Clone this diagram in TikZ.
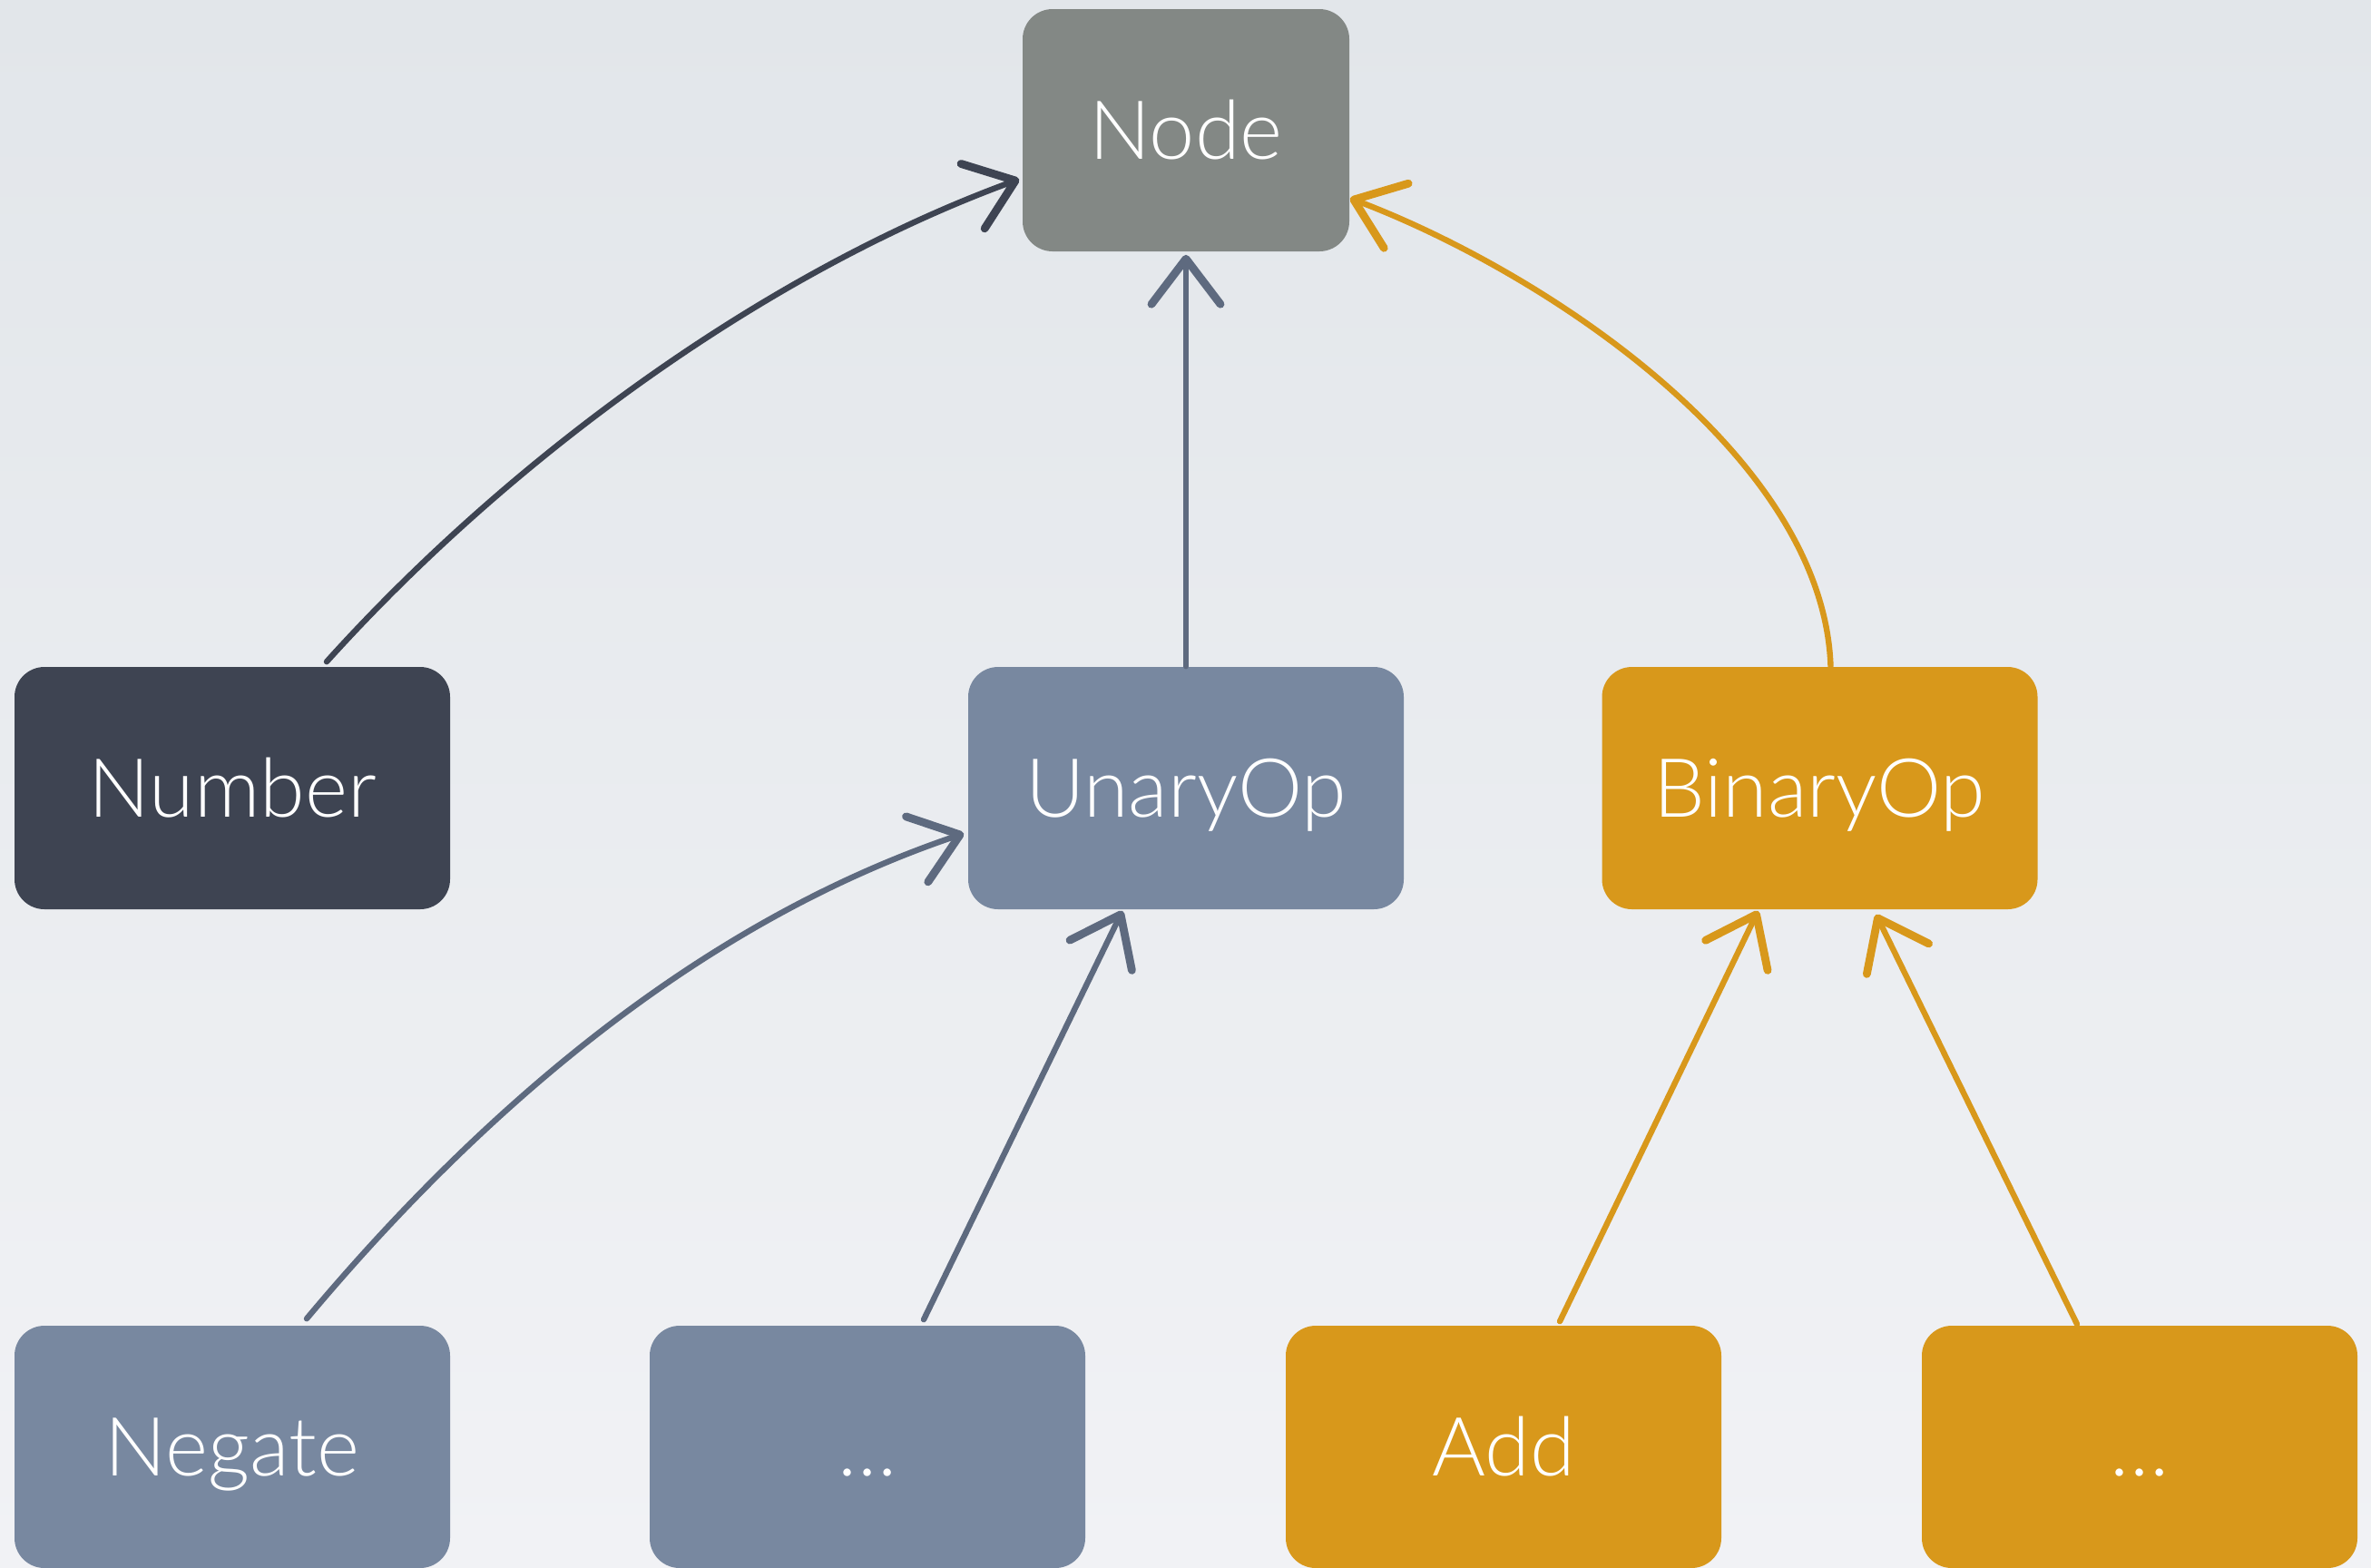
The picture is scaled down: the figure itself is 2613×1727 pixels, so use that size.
\documentclass[tikz,border=0pt]{standalone}
\usepackage{fontspec}
\setmainfont{Lato}[UprightFont=* Light]
\usetikzlibrary{arrows.meta,calc}

\definecolor{bgtop}{RGB}{226,230,234}
\definecolor{bgbot}{RGB}{241,242,245}
\definecolor{rootgray}{RGB}{131,136,133}
\definecolor{numdark}{RGB}{62,68,82}
\definecolor{slate}{RGB}{120,136,160}
\definecolor{slatedark}{RGB}{94,106,127}
\definecolor{amber}{RGB}{216,152,27}

\tikzset{
  box/.style={rectangle, rounded corners=8.25pt, minimum width=120pt, minimum height=66.75pt,
    inner sep=0pt, text=white, font=\fontsize{22.5}{27}\selectfont, text height=16pt, text depth=0pt},
  inherit/.style={line width=1.6pt, line cap=round,
    -{Straight Barb[length=12.5pt,width=19pt,line width=2.2pt,round]}},
}

\begin{document}
\begin{tikzpicture}[x=0.25pt,y=0.25pt,yscale=-1,xscale=1]
%background
\shade[top color=bgtop, bottom color=bgbot] (0,0) rectangle (2613,1727);
\useasboundingbox (0,0) rectangle (2613,1727);

% Rounded Rect
\node[box, fill=rootgray, minimum width=90pt] (root) at (1307,143.5) {Node};
% Rounded Rect
\node[box, fill=numdark] (number) at (256,868.5) {Number};
% Rounded Rect
\node[box, fill=slate] (unary) at (1307,868.5) {UnaryOp};
% Rounded Rect
\node[box, fill=amber] (binary) at (2005.5,868.5) {BinaryOp};
% Rounded Rect
\node[box, fill=slate] (negate) at (256,1594.5) {Negate};
% Rounded Rect
\node[box, fill=slate] (unarymore) at (956,1594.5) {…};
% Rounded Rect
\node[box, fill=amber] (add) at (1657,1594.5) {Add};
% Rounded Rect
\node[box, fill=amber] (binarymore) at (2358,1594.5) {…};

%Curve Lines
\draw[inherit, numdark] ($(number.north)+(104,-5)$) .. controls +(201,-223) and +(-282,103) .. ($(root.west)+(-3,54)$);
%Straight Lines
\draw[inherit, slatedark] (unary.north) -- ($(root.south)+(0,3)$);
%Curve Lines
\draw[inherit, amber] ($(binary.north)+(12,0)$) .. controls +(-8,-232) and +(214,81) .. ($(root.east)+(0,75)$);

%Curve Lines
\draw[inherit, slatedark] ($(negate.north)+(82,-7)$) .. controls +(212,-253) and +(-273,92) .. ($(unary.west)+(-4,50)$);
%Straight Lines
\draw[inherit, slatedark] ($(unarymore.north)+(62,-6)$) -- ($(unary.south)+(-70,1)$);
%Straight Lines
\draw[inherit, amber] ($(add.north)+(62,-4)$) -- ($(binary.south)+(-68,1)$);
%Straight Lines
\draw[inherit, amber] ($(binarymore.north)+(-69,-1)$) -- ($(binary.south)+(62,5)$);

\end{tikzpicture}
\end{document}
